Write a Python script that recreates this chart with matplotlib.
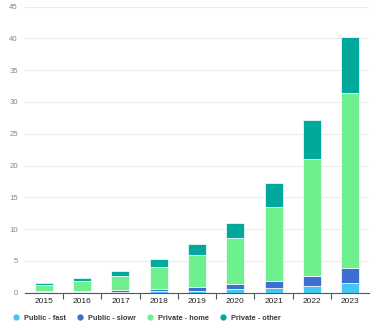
import matplotlib
matplotlib.use('agg')
import matplotlib.pyplot as plt
from matplotlib.lines import Line2D
import numpy as np

plt.rcParams['font.family'] = ['Liberation Sans', 'DejaVu Sans']

years = ["2015", "2016", "2017", "2018", "2019", "2020", "2021", "2022", "2023"]
public_fast = [0.05, 0.1, 0.15, 0.2, 0.3, 0.53, 0.8, 1.05, 1.5]
public_slow = [0.15, 0.2, 0.3, 0.4, 0.65, 0.84, 1.1, 1.55, 2.4]
private_home = [1.0, 1.6, 2.25, 3.5, 5.05, 7.18, 11.6, 18.5, 27.45]
private_other = [0.25, 0.35, 0.7, 1.2, 1.6, 2.35, 3.7, 6.0, 8.85]

names = ["Public - fast", "Public - slowr", "Private - home", "Private - other"]
colors = ["#45c6f2", "#3d6fd0", "#6ef08f", "#00a99b"]

fig = plt.figure(figsize=(3.76, 3.3), dpi=100)
ax = fig.add_axes([0.066, 0.113, 0.916, 0.867])

x = np.arange(len(years))
bottom = np.zeros(len(years))
for vals, c in zip([public_fast, public_slow, private_home, private_other], colors):
  ax.bar(x, vals, 0.47, bottom=bottom, color=c, edgecolor='white', linewidth=0.5, zorder=3)
  bottom += np.array(vals)

ax.set_xlim(-0.5, 8.5)
ax.set_ylim(0, 45)
ax.set_yticks(range(0, 46, 5))
ax.grid(True, axis='y', color='#ececec', linewidth=0.8, zorder=0)
for s in ['top', 'right', 'left']:
  ax.spines[s].set_visible(False)
ax.spines['bottom'].set_color('#555555')
ax.spines['bottom'].set_linewidth(0.8)

ax.set_xticks(x)
ax.set_xticklabels(years)
ax.set_xticks(np.arange(0.5, 8.5, 1), minor=True)
ax.tick_params(axis='x', which='major', length=0, labelsize=6, labelcolor='#222222', pad=4)
ax.tick_params(axis='x', which='minor', length=4, color='#555555', width=0.8, direction='out')
ax.tick_params(axis='y', length=0, labelsize=5.6, labelcolor='#888888', pad=5)

handles = [Line2D([], [], marker='o', linestyle='none', markersize=3.5, markerfacecolor=c,
                  markeredgecolor=c) for c in colors]
fig.legend(handles, names, loc='lower left', bbox_to_anchor=(0.005, 0.005), ncol=4,
           frameon=False, handletextpad=0.1, columnspacing=0.9, labelcolor='#3a3a3a',
           prop={'size': 5.3, 'weight': 'bold'})

plt.savefig('out.png', dpi=100)
